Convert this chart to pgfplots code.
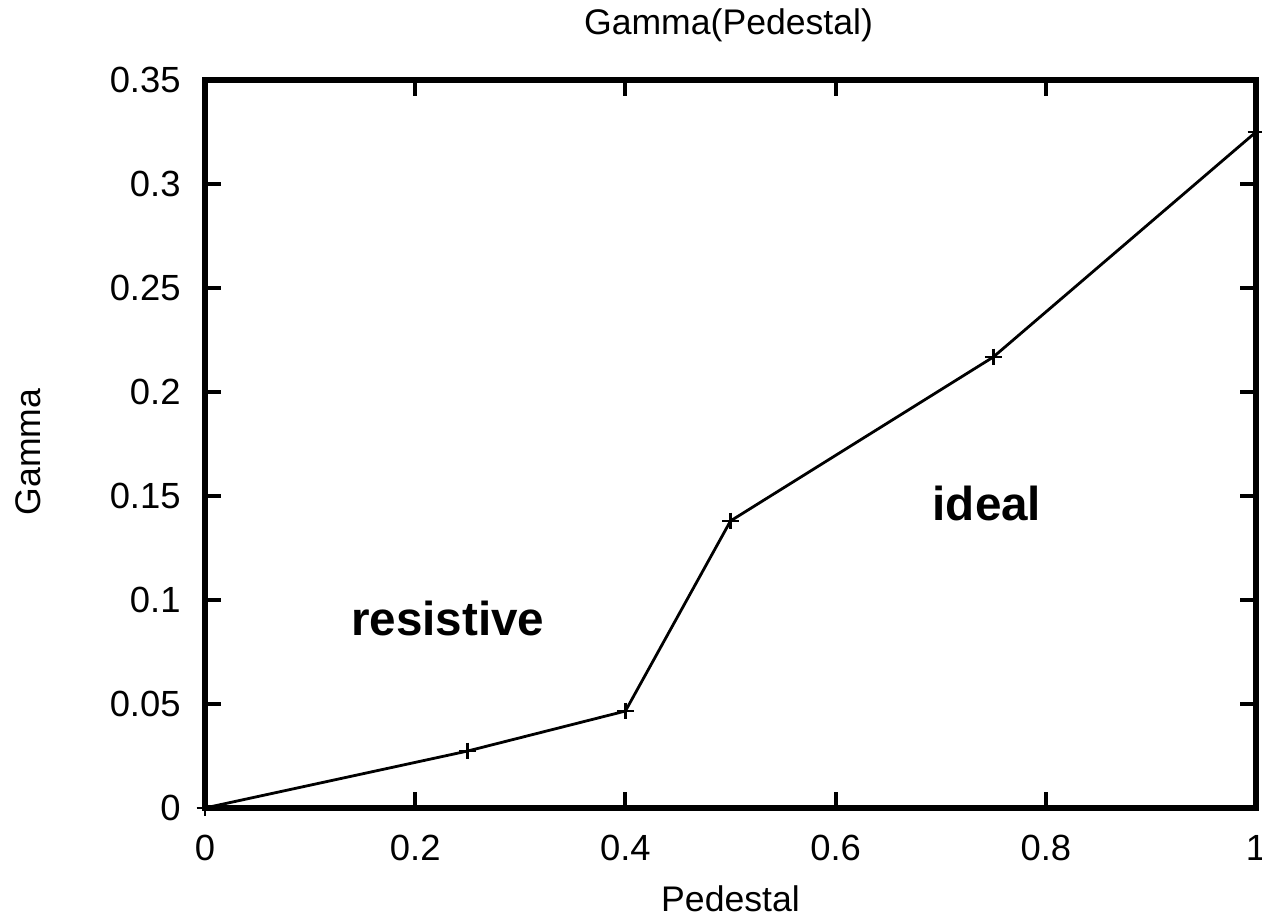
\documentclass[border=0pt]{standalone}
\usepackage{fontspec}
\setmainfont{Liberation Sans}
\usepackage{pgfplots}
\pgfplotsset{compat=1.18}

\begin{document}
\begin{tikzpicture}
\begin{axis}[
  scale only axis,
  width=525.5pt, height=364pt,
  xmin=0, xmax=1, ymin=0, ymax=0.35,
  xtick={0,0.2,0.4,0.6,0.8,1},
  ytick={0,0.05,0.1,0.15,0.2,0.25,0.3,0.35},
  /pgf/number format/assume math mode=true,
  /pgf/number format/fixed,
  /pgf/number format/precision=2,
  tick align=inside,
  major tick length=8pt,
  every tick/.style={black, line width=2pt},
  axis line style={line width=3pt},
  tick label style={font=\fontsize{18.2}{20}\selectfont, inner sep=0pt},
  xticklabel style={anchor=north, yshift=-13.5pt},
  yticklabel style={anchor=east, xshift=-12pt},
  clip=false,
]
\addplot[black, line width=1.4pt, mark=+, mark size=4.2pt,
         mark options={line width=1.4pt}] coordinates {
  (0,0) (0.25,0.0274) (0.4,0.0466) (0.5,0.138) (0.75,0.2168) (1,0.325)
};
\node[font=\bfseries\fontsize{23.8}{26}\selectfont] at (axis cs:0.231,0.0913) {resistive};
\node[font=\bfseries\fontsize{23.8}{26}\selectfont] at (axis cs:0.744,0.1466) {ideal};
\coordinate (bl) at (rel axis cs:0,0);
\coordinate (tr) at (rel axis cs:1,1);
\coordinate (ml) at (rel axis cs:0,0.5);
\coordinate (bm) at (rel axis cs:0.5,0);
\coordinate (tm) at (rel axis cs:0.5,1);
\end{axis}
% title and axis labels
\node[font=\fontsize{17.8}{20}\selectfont, anchor=base, inner sep=0pt]
  at ([yshift=22.5pt,xshift=-1pt]tm) {Gamma(Pedestal)};
\node[font=\fontsize{17.8}{20}\selectfont, anchor=base, inner sep=0pt]
  at ([yshift=-52pt]bm) {Pedestal};
\node[font=\fontsize{17.8}{20}\selectfont, rotate=90, inner sep=0pt]
  at ([xshift=-88.5pt,yshift=-4pt]ml) {Gamma};
\pgfresetboundingbox
\useasboundingbox ([xshift=-102.5pt,yshift=-54.5pt]bl) rectangle ([xshift=3pt,yshift=40pt]tr);
\end{tikzpicture}
\end{document}
